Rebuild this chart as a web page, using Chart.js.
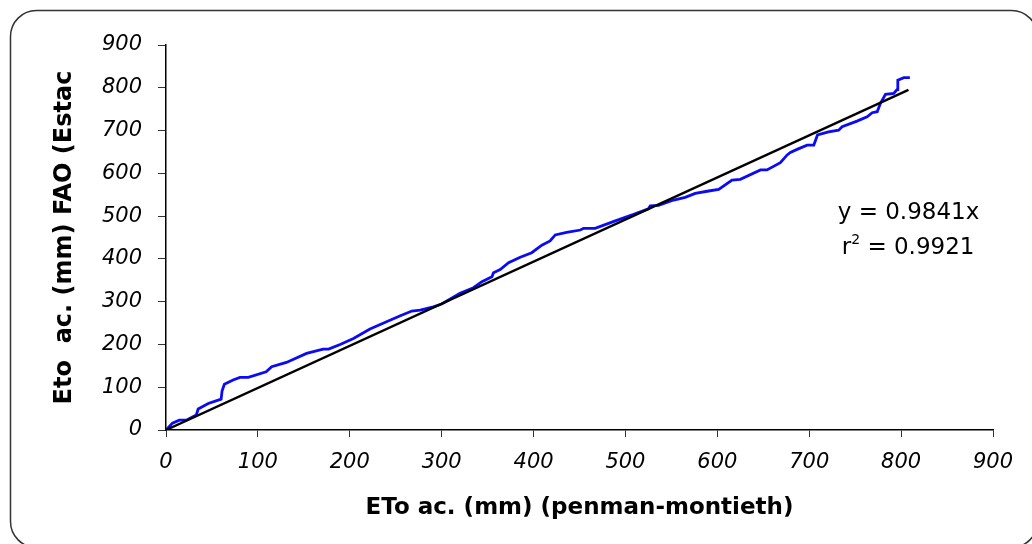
<!DOCTYPE html>
<html>
<head>
<meta charset="utf-8">
<script src="https://cdn.jsdelivr.net/npm/chart.js@4.4.1/dist/chart.umd.min.js"></script>
<style>
  body { margin: 0; background: #fff; }
  #wrap { width: 1032px; height: 544px; }
</style>
</head>
<body>
<div id="wrap"><canvas id="etoChart" width="1032" height="544"></canvas></div>
<script>
// ETo accumulated (mm), Penman-Monteith on x, FAO station on y
const etoPM = [1, 7, 14.5, 22, 33, 35, 46, 60, 61, 63.5, 73, 80.5, 89.6, 109, 115, 131, 153, 171, 177, 189.5,
    204, 222, 240, 255, 267.5, 276.6, 291, 300, 307.5, 320, 334.6, 343.8, 354.7, 356.4, 363.7, 372.8, 385.5, 398,
    409, 418, 423.6, 436, 451, 454.4, 467, 489, 509, 525, 527, 536, 552.5, 565, 576, 590.5, 601.5, 616, 625, 647,
    654, 668.6, 676, 679.5, 686.8, 697.7, 705, 709, 721, 732, 735.8, 752, 763, 768.5, 774, 777.5, 783, 792, 795.7,
    796.4, 803, 809.5];
const etoFAO = [2, 16, 23, 23, 35, 49, 62, 72, 91, 107, 117, 123, 123, 136, 148, 158, 179, 189, 189, 200,
    214, 236, 253, 267, 278, 280, 288, 294.5, 304, 319.5, 332.6, 346.7, 358, 367.7, 375, 391, 403.7, 414.5,
    432, 442, 456, 462, 467.5, 471.5, 471.5, 489, 504, 517, 524, 525, 537.6, 544, 553, 558.7, 562.6, 584, 586, 608,
    608, 625, 643, 649, 656, 666, 666, 689.6, 697, 701, 709, 722, 732, 741.7, 744, 763.7, 784.7, 787, 796,
    818, 823.6, 823.6];

// trend line end points (y = 0.9841x)
const trendX = [0, 808];
const trendY = [0, 795];

const axisTicks = [0, 100, 200, 300, 400, 500, 600, 700, 800, 900];
const eqLines = ['y = 0.9841x', '= 0.9921'];

const fontFam = "'DejaVu Sans', sans-serif";

function toPoints(xs, ys) {
    return xs.map((x, i) => ({ x: x, y: ys[i] }));
}

// rounded frame behind the chart
const framePlugin = {
    id: 'frame',
    beforeDraw(chart) {
        const ctx = chart.ctx;
        ctx.save();
        ctx.fillStyle = '#fff';
        ctx.fillRect(0, 0, chart.width, chart.height);
        ctx.beginPath();
        ctx.roundRect(10.5, 10.5, 1027, 537, 26);
        ctx.strokeStyle = '#333';
        ctx.lineWidth = 1.5;
        ctx.stroke();
        ctx.restore();
    }
};

// regression text
const eqPlugin = {
    id: 'eq',
    afterDraw(chart) {
        const ctx = chart.ctx;
        const sx = chart.scales.x, sy = chart.scales.y;
        const x0 = sx.getPixelForValue(731);
        ctx.save();
        ctx.fillStyle = '#000';
        ctx.textAlign = 'left';
        ctx.textBaseline = 'alphabetic';
        ctx.font = '23px ' + fontFam;
        ctx.fillText(eqLines[0], x0, sy.getPixelForValue(493));
        const y2 = sy.getPixelForValue(411);
        const x2 = x0 + 4;
        ctx.fillText('r', x2, y2);
        const rw = ctx.measureText('r').width;
        ctx.font = '14px ' + fontFam;
        ctx.fillText('2', x2 + rw, y2 - 10);
        const sw = ctx.measureText('2').width;
        ctx.font = '23px ' + fontFam;
        ctx.fillText(' ' + eqLines[1], x2 + rw + sw, y2);
        ctx.restore();
    }
};

const tickFont = { family: fontFam, size: 21, style: 'italic' };

new Chart(document.getElementById('etoChart'), {
    type: 'scatter',
    data: {
        datasets: [
            {
                label: 'Tendencia',
                data: toPoints(trendX, trendY),
                showLine: true,
                borderColor: '#000',
                borderWidth: 2.4,
                pointRadius: 0,
                tension: 0
            },
            {
                label: 'ETo ac.',
                data: toPoints(etoPM, etoFAO),
                showLine: true,
                borderColor: '#0a0af5',
                borderWidth: 2.8,
                pointRadius: 0,
                tension: 0
            }
        ]
    },
    options: {
        responsive: false,
        animation: false,
        layout: { padding: { top: 45, right: 39, bottom: 0, left: 0 } },
        plugins: {
            legend: { display: false },
            tooltip: { enabled: false }
        },
        scales: {
            x: {
                type: 'linear',
                min: 0,
                max: 900,
                afterBuildTicks: s => { s.ticks = axisTicks.map(v => ({ value: v })); },
                afterFit: s => { s.height = 114; },
                grid: { display: true, drawOnChartArea: false, drawTicks: true, tickLength: 7, color: '#333' },
                border: { display: true, color: '#000', width: 1.5 },
                ticks: { color: '#000', font: tickFont, padding: 13, maxRotation: 0 },
                title: {
                    display: true,
                    text: 'ETo ac. (mm) (penman-montieth)',
                    color: '#000',
                    font: { family: fontFam, size: 23, weight: 'bold' },
                    padding: { top: 0, bottom: 22 }
                }
            },
            y: {
                type: 'linear',
                min: 0,
                max: 900,
                afterBuildTicks: s => { s.ticks = axisTicks.map(v => ({ value: v })); },
                afterFit: s => { s.width = 166; },
                grid: { display: true, drawOnChartArea: false, drawTicks: true, tickLength: 8, color: '#333' },
                border: { display: true, color: '#000', width: 1.5 },
                ticks: { color: '#000', font: tickFont, padding: 16 },
                title: {
                    display: true,
                    text: 'Eto  ac. (mm) FAO (Estac',
                    color: '#000',
                    font: { family: fontFam, size: 24, weight: 'bold' },
                    padding: { top: 50, bottom: 0 }
                }
            }
        }
    },
    plugins: [framePlugin, eqPlugin]
});
</script>
</body>
</html>
